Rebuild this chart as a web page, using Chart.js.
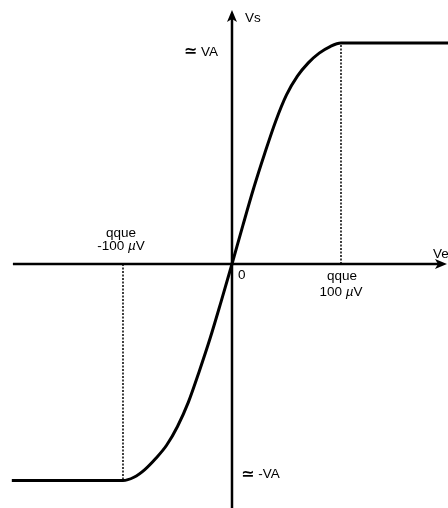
<!DOCTYPE html>
<html>
<head>
<meta charset="utf-8">
<script src="https://cdn.jsdelivr.net/npm/chart.js@4"></script>
<style>
  body { margin: 0; background: #fff; }
  canvas { display: block; }
</style>
</head>
<body>
<canvas id="chart" width="448" height="508"></canvas>
<script>
// transfer curve: Ve (µV) -> Vs (in units of VA)
const veValues = [-202, -100, -90, -80, -70, -60, -50, -40, -30, -20, -10, 0, 10, 20, 30, 40, 50, 60, 70, 80, 90, 100, 200];
const vsValues = [-0.98, -0.98, -0.965, -0.93, -0.88, -0.82, -0.735, -0.625, -0.485, -0.335, -0.17, 0, 0.175, 0.345, 0.5, 0.645, 0.765, 0.85, 0.91, 0.954, 0.984, 1, 1];

// saturation markers (dotted lines)
const satX = [-100, 100];
const satY = [-0.98, 1];

// axes extent
const axisXRange = [-201, 195.4];
const axisYRange = [-1.104, 1.14];

// labels
const qqueLabel = "qque";
const zeroLabel = "0";

let curve = veValues.map((v, i) => ({ x: v, y: vsValues[i] }));

// draw arrows and texts on top of the hidden scales
const annotate = {
  id: 'annotate',
  afterDatasetsDraw(chart) {
    const ctx = chart.ctx;
    const xs = chart.scales.x;
    const ys = chart.scales.y;
    const x0 = xs.getPixelForValue(0);
    const y0 = ys.getPixelForValue(0);

    ctx.save();
    ctx.fillStyle = '#000';

    // arrow heads
    let tipX = xs.getPixelForValue(axisXRange[1]);
    ctx.beginPath();
    ctx.moveTo(tipX + 2, y0);
    ctx.lineTo(tipX - 10, y0 - 5);
    ctx.lineTo(tipX - 7, y0);
    ctx.lineTo(tipX - 10, y0 + 5);
    ctx.closePath();
    ctx.fill();

    let tipY = ys.getPixelForValue(axisYRange[1]);
    ctx.beginPath();
    ctx.moveTo(x0, tipY - 2);
    ctx.lineTo(x0 - 5, tipY + 10);
    ctx.lineTo(x0, tipY + 7);
    ctx.lineTo(x0 + 5, tipY + 10);
    ctx.closePath();
    ctx.fill();

    // text helper: italic µ and a bigger ≃
    const font = "13.5px 'Liberation Sans', 'DejaVu Sans', sans-serif";
    const ifont = "italic 13.5px 'Liberation Sans', 'DejaVu Sans', sans-serif";
    const sfont = "bold 16px 'DejaVu Sans', sans-serif";
    function runs(str) {
      let out = [];
      for (const ch of str) {
        let f = font;
        if (ch === 'µ') f = ifont;
        if (ch === '\u2243') f = sfont;
        if (out.length && out[out.length - 1].f === f) out[out.length - 1].t += ch;
        else out.push({ t: ch, f: f });
      }
      return out;
    }
    function text(str, x, y, align) {
      let r = runs(str);
      let w = 0;
      r.forEach(p => { ctx.font = p.f; w += ctx.measureText(p.t).width; });
      let start = x;
      if (align === 'center') start = x - w / 2;
      if (align === 'right') start = x - w;
      ctx.textBaseline = 'middle';
      ctx.textAlign = 'left';
      r.forEach(p => {
        ctx.font = p.f;
        ctx.fillText(p.t, start, y);
        start += ctx.measureText(p.t).width;
      });
    }

    let topY = ys.getPixelForValue(satY[1]);
    let botY = ys.getPixelForValue(satY[0]);
    let negX = xs.getPixelForValue(satX[0]);
    let posX = xs.getPixelForValue(satX[1]);

    text("Vs", x0 + 13, tipY + 6, 'left');
    text("\u2243 VA", x0 - 14, topY + 9, 'right');
    text("Ve", tipX - 12, y0 - 10, 'left');
    text(zeroLabel, x0 + 6, y0 + 11, 'left');
    text(qqueLabel, negX - 2, y0 - 31, 'center');
    text("-100 µV", negX - 2, y0 - 18, 'center');
    text(qqueLabel, posX + 1, y0 + 12, 'center');
    text("100 µV", posX, y0 + 28, 'center');
    text("\u2243 -VA", x0 + 9, botY - 6, 'left');

    ctx.restore();
  }
};

const ctx = document.getElementById('chart').getContext('2d');
new Chart(ctx, {
  type: 'line',
  data: {
    datasets: [{
      // horizontal axis
      data: [{ x: axisXRange[0], y: 0 }, { x: axisXRange[1] - 3, y: 0 }],
      borderColor: '#000',
      borderWidth: 2.5,
      pointRadius: 0
    }, {
      // vertical axis
      data: [{ x: 0, y: axisYRange[0] }, { x: 0, y: axisYRange[1] - 0.02 }],
      borderColor: '#000',
      borderWidth: 2.5,
      pointRadius: 0
    }, {
      // dotted line at +100 µV
      data: [{ x: satX[1], y: 0 }, { x: satX[1], y: satY[1] }],
      borderColor: '#000',
      borderWidth: 1.5,
      borderDash: [2, 1.5],
      pointRadius: 0
    }, {
      // dotted line at -100 µV
      data: [{ x: satX[0], y: 0 }, { x: satX[0], y: satY[0] }],
      borderColor: '#000',
      borderWidth: 1.5,
      borderDash: [2, 1.5],
      pointRadius: 0
    }, {
      // Vs = f(Ve)
      data: curve,
      borderColor: '#000',
      borderWidth: 3,
      pointRadius: 0,
      cubicInterpolationMode: 'monotone'
    }]
  },
  options: {
    responsive: false,
    animation: false,
    layout: { padding: 0 },
    scales: {
      x: { type: 'linear', display: false, min: -212.84, max: 198.17 },
      y: { type: 'linear', display: false, min: -1.104, max: 1.1946 }
    },
    plugins: {
      legend: { display: false },
      tooltip: { enabled: false }
    }
  },
  plugins: [annotate]
});
</script>
</body>
</html>
